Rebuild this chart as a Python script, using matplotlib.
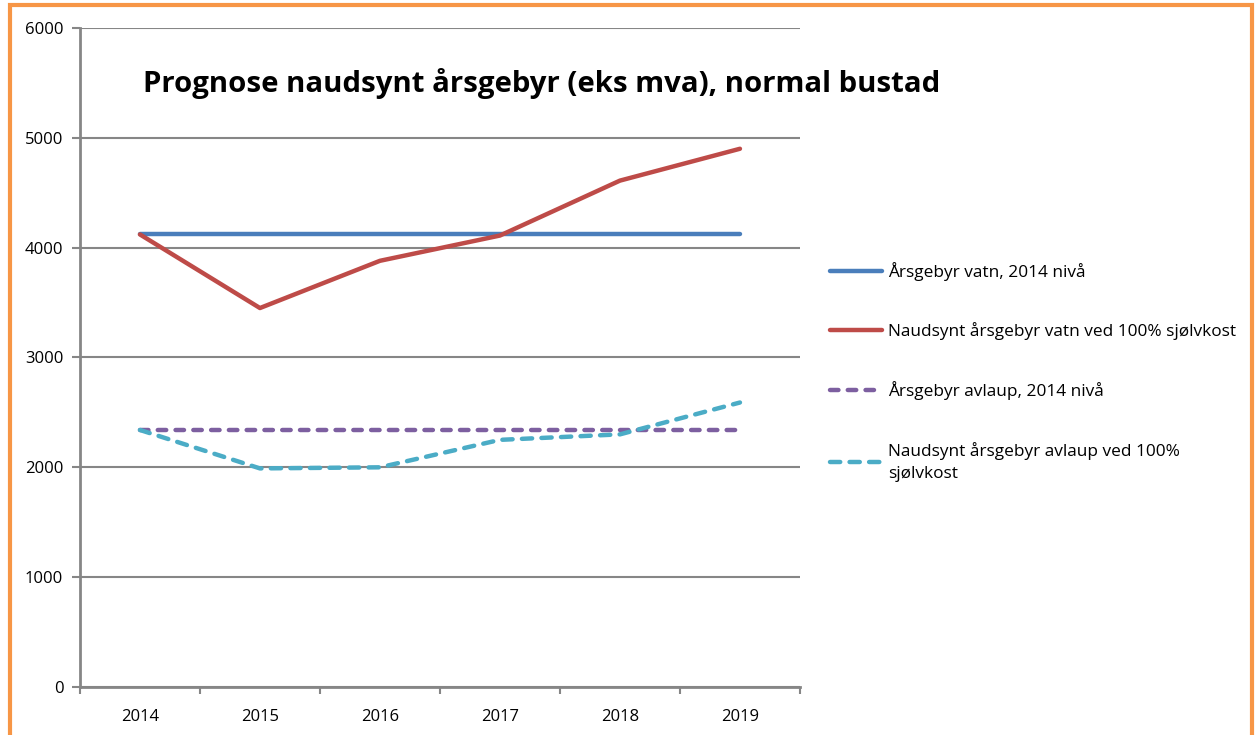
import numpy as np
import matplotlib
matplotlib.use('Agg')
import matplotlib.pyplot as plt
from matplotlib.patches import Rectangle

plt.rcParams['font.family'] = ['Open Sans', 'DejaVu Sans']

years = ['2014', '2015', '2016', '2017', '2018', '2019']
vatn_2014 = [4120, 4120, 4120, 4120, 4120, 4120]
vatn_sjolvkost = [4120, 3450, 3880, 4110, 4610, 4900]
avlaup_2014 = [2340, 2340, 2340, 2340, 2340, 2340]
avlaup_sjolvkost = [2340, 1990, 2000, 2250, 2300, 2590]

labels = ['Årsgebyr vatn, 2014 nivå',
          'Naudsynt årsgebyr vatn ved 100% sjølvkost',
          'Årsgebyr avlaup, 2014 nivå',
          'Naudsynt årsgebyr avlaup ved 100%\nsjølvkost']

grey = '#868686'

fig = plt.figure(figsize=(12.57, 7.35), dpi=100)
fig.patches.append(Rectangle((0.008, -0.01), 0.988, 1.003, transform=fig.transFigure,
                             fill=False, edgecolor='#f79646', linewidth=3))
ax = fig.add_axes([0.0636, 0.0653, 0.5728, 0.8967])

x = np.arange(len(years))
ax.plot(x, vatn_2014, color='#4a7ebb', lw=3.2, solid_capstyle='round', label=labels[0])
ax.plot(x, vatn_sjolvkost, color='#be4b48', lw=3.2, solid_capstyle='round', label=labels[1])
ax.plot(x, avlaup_2014, color='#7d5fa0', lw=3.2, dashes=(1.9, 2.1), dash_capstyle='round',
        label=labels[2])
ax.plot(x, avlaup_sjolvkost, color='#4bacc6', lw=3.2, dashes=(2.3, 2.1), dash_capstyle='round',
        label=labels[3])

ax.set_xlim(-0.5, len(years) - 0.5)
ax.set_ylim(0, 6000)
ax.set_yticks(np.arange(0, 6001, 1000))
ax.set_xticks(x)
ax.set_xticklabels(years)
ax.set_xticks(np.arange(-0.5, len(years)), minor=True)
ax.tick_params(axis='x', which='major', length=0, pad=16, labelsize=12)
ax.tick_params(axis='x', which='minor', length=5, width=1.5, color=grey, direction='out')
ax.tick_params(axis='y', length=6, width=1.5, color=grey, direction='out', pad=6, labelsize=12)
ax.grid(axis='y', color=grey, lw=1.5)
ax.set_axisbelow(True)
for s in ['top', 'right']:
    ax.spines[s].set_visible(False)
for s in ['left', 'bottom']:
    ax.spines[s].set_color(grey)
    ax.spines[s].set_linewidth(2)

ax.text(0.087, 0.915, 'Prognose naudsynt årsgebyr (eks mva), normal bustad',
        transform=ax.transAxes, fontsize=21.2, fontweight='bold', ha='left', va='center')

leg = ax.legend(loc='center left', bbox_to_anchor=(1.0417, 0.478), frameon=False, fontsize=12.4,
                labelspacing=2.4, handlelength=3.0, handletextpad=0.35,
                borderaxespad=0, borderpad=0)
leg.get_texts()[3].set_linespacing(1.55)

fig.savefig('out.png', dpi=100)
